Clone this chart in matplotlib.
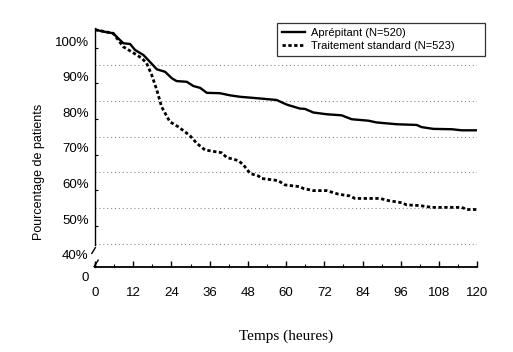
#!/usr/bin/env python3
"""Courbes de réponse complète : Aprépitant vs traitement standard (0-120 h)."""

import matplotlib

matplotlib.use("Agg")
import matplotlib.pyplot as plt
from matplotlib.ticker import FixedLocator, NullFormatter

plt.rcParams["font.family"] = ["Liberation Sans", "DejaVu Sans"]

# --- data (hours, % of patients) ---
apre_h = [0, 3.1, 5.7, 6.8, 8.9, 11.0, 12.6, 15.2, 16.7, 19.4, 22.0, 24.1, 25.6, 28.8, 30.9, 33.0,
          35.1, 39.2, 42.4, 45.5, 50.8, 57.0, 60.2, 64.3, 65.9, 68.5, 72.7, 77.4, 80.6, 85.8, 88.4,
          94.7, 101.0, 102.5, 106.2, 112.0, 115.1, 120]
apre_pct = [100, 99.4, 99.0, 98.0, 96.2, 96.0, 94.3, 92.9, 91.5, 88.9, 88.2, 86.4, 85.6, 85.4, 84.2, 83.7,
            82.3, 82.2, 81.6, 81.2, 80.8, 80.3, 79.0, 77.9, 77.8, 76.8, 76.3, 76.0, 74.9, 74.5, 74.0,
            73.5, 73.3, 72.7, 72.2, 72.1, 71.8, 71.8]

std_h = [0, 5.7, 8.9, 11.5, 14.7, 16.2, 17.8, 19.4, 20.9, 23.5, 26.1, 28.8, 29.8, 31.9, 34.5, 39.8,
         41.3, 45.0, 46.6, 48.7, 51.3, 52.3, 57.5, 59.6, 64.3, 65.4, 68.5, 72.7, 76.4, 80.0, 81.6,
         89.5, 92.1, 96.3, 97.8, 102.0, 105.7, 115.1, 116.7, 120]
std_pct = [100, 99.0, 95.2, 93.8, 92.0, 90.6, 87.3, 83.1, 78.4, 74.2, 72.8, 71.0, 70.3, 68.2, 66.3, 65.5,
           64.2, 63.3, 62.1, 59.7, 59.0, 58.3, 57.7, 56.5, 56.0, 55.5, 54.9, 54.9, 53.9, 53.4, 52.7,
           52.7, 52.1, 51.5, 50.9, 50.7, 50.2, 50.2, 49.6, 49.6]

labels = ["Aprépitant (N=520)", "Traitement standard (N=523)"]
x_ticks = list(range(0, 121, 12))
y_tick_text = ["100%", "90%", "80%", "70%", "60%", "50%", "40%"]
grid_levels = [90, 80, 70, 60, 50, 40]

# --- layout ---
Y_LO, Y_HI = 33.4, 100.5
y_label_pos = [96.7, 86.8, 76.9, 66.9, 57.0, 46.9, 37.0]   # labels sit off the tick marks in the original
y_tick_marks = [95, 85, 75, 65, 55, 45]

fig = plt.figure(figsize=(5.13, 3.52), dpi=100)
ax = fig.add_axes([0.1852, 0.2406, 0.7452, 0.6801])

for g in grid_levels:
    ax.axhline(g, color="#8c8c8c", lw=0.8, ls=(0, (1, 2.5)), zorder=1)

ax.plot(apre_h, apre_pct, color="black", lw=1.7, ls="-", label=labels[0], zorder=3)
ax.plot(std_h, std_pct, color="black", lw=2.0, ls=(0, (1.2, 0.9)), label=labels[1], zorder=3)

ax.set_xlim(0, 120)
ax.set_ylim(Y_LO, Y_HI)

for s in ("top", "right"):
    ax.spines[s].set_visible(False)
ax.spines["bottom"].set_linewidth(1.3)
ax.spines["left"].set_linewidth(1.0)
ax.spines["left"].set_bounds(39.6, Y_HI)

# axis break marks on the y axis
ax.plot([-1.0, 0.1], [37.3, 38.9], color="black", lw=1.0, clip_on=False)
ax.plot([-0.3, 1.0], [33.6, 35.4], color="black", lw=1.0, clip_on=False)
ax.plot([0, 0], [Y_LO, 34.5], color="black", lw=1.0, clip_on=False)

ax.set_xticks(x_ticks)
ax.xaxis.set_minor_locator(FixedLocator(list(range(6, 120, 12))))
ax.tick_params(axis="x", which="major", direction="in", length=4, width=1.0, pad=14, labelsize=9.5)
ax.tick_params(axis="x", which="minor", direction="in", length=2, width=0.8)

ax.yaxis.set_major_locator(FixedLocator(y_label_pos))
ax.set_yticklabels(y_tick_text)
ax.yaxis.set_minor_locator(FixedLocator(y_tick_marks))
ax.yaxis.set_minor_formatter(NullFormatter())
ax.tick_params(axis="y", which="major", length=0, pad=4.5, labelsize=9.5)
ax.tick_params(axis="y", which="minor", direction="in", length=2, width=0.8)

ax.text(-1.8, 30.4, "0", ha="right", va="center", fontsize=9.5, clip_on=False)

ax.set_ylabel("Pourcentage de patients", fontsize=9)
ax.yaxis.set_label_coords(-0.13, 0.40)
fig.text(0.557, 0.045, "Temps (heures)", ha="center", va="center",
         fontsize=11, family=["Liberation Serif", "DejaVu Serif"])

leg = fig.legend(loc="upper left", bbox_to_anchor=(0.54, 0.837, 0.405, 0.098), mode="expand",
                 fontsize=8, frameon=True, fancybox=False, borderaxespad=0, borderpad=0.45,
                 handlelength=2.1, handletextpad=0.5, labelspacing=0.3)
leg.get_frame().set_edgecolor("black")
leg.get_frame().set_linewidth(0.9)

fig.savefig("out.png", dpi=100)
